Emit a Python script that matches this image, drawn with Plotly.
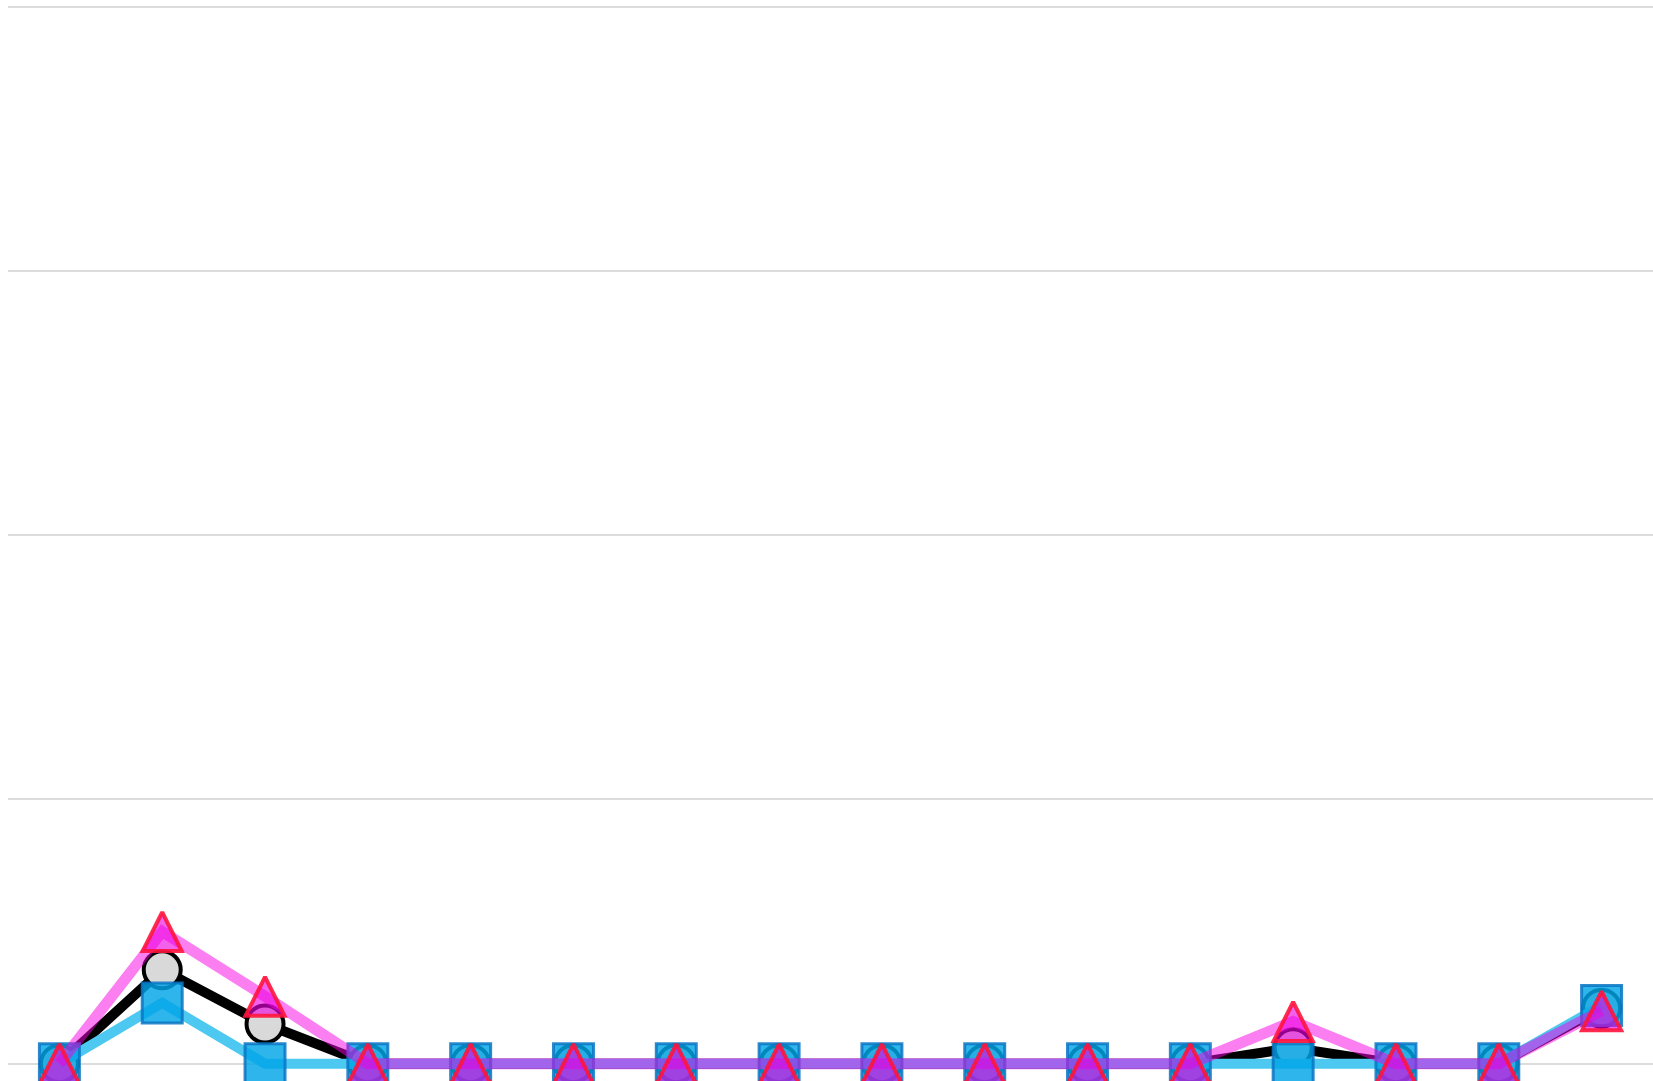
import plotly.graph_objects as go

# Data (values in units of one gridline step)
x_idx = list(range(16))
squares_vals = [0, 0.23, 0, 0, 0, 0, 0, 0, 0, 0, 0, 0, 0, 0, 0, 0.22]
circles_vals = [0, 0.355, 0.15, 0, 0, 0, 0, 0, 0, 0, 0, 0, 0.06, 0, 0, 0.21]
triangles_vals = [0, 0.50, 0.255, 0, 0, 0, 0, 0, 0, 0, 0, 0, 0.16, 0, 0, 0.20]

fig = go.Figure()

fig.add_trace(go.Scatter(
    x=x_idx, y=circles_vals, mode="lines+markers", name="circles",
    line=dict(color="#000000", width=10, backoff=0),
    marker=dict(symbol="circle", size=37, color="#d9d9d9",
                line=dict(color="#000000", width=4)),
))

fig.add_trace(go.Scatter(
    x=x_idx, y=squares_vals, mode="lines+markers", name="squares",
    line=dict(color="#4dc8f0", width=10, backoff=0),
    marker=dict(symbol="square", size=40, color="rgba(0,165,232,0.82)",
                line=dict(color="rgba(10,118,195,0.85)", width=3)),
))

fig.add_trace(go.Scatter(
    x=x_idx, y=triangles_vals, mode="lines+markers", name="triangles",
    line=dict(color="rgba(248,0,228,0.5)", width=11, backoff=0),
    marker=dict(symbol="arrow-down", angle=180, standoff=19.5, size=39,
                color="rgba(235,0,225,0.62)",
                line=dict(color="rgba(255,20,60,0.9)", width=4)),
))

fig.update_layout(
    width=1653, height=1081,
    margin=dict(l=8, r=0, t=0, b=0),
    paper_bgcolor="white", plot_bgcolor="white",
    showlegend=False,
    xaxis=dict(range=[-0.5, 15.5], showgrid=False, zeroline=False,
               showticklabels=False, ticks="", showline=False),
    yaxis=dict(range=[-0.0655, 4.0246], dtick=1, tick0=0, showgrid=True,
               gridcolor="#dcdcdc", gridwidth=2, zeroline=False,
               showticklabels=False, ticks="", showline=False),
)

fig.write_html("out.html", config={"displayModeBar": False},
               post_script="document.body.style.margin='0';")
